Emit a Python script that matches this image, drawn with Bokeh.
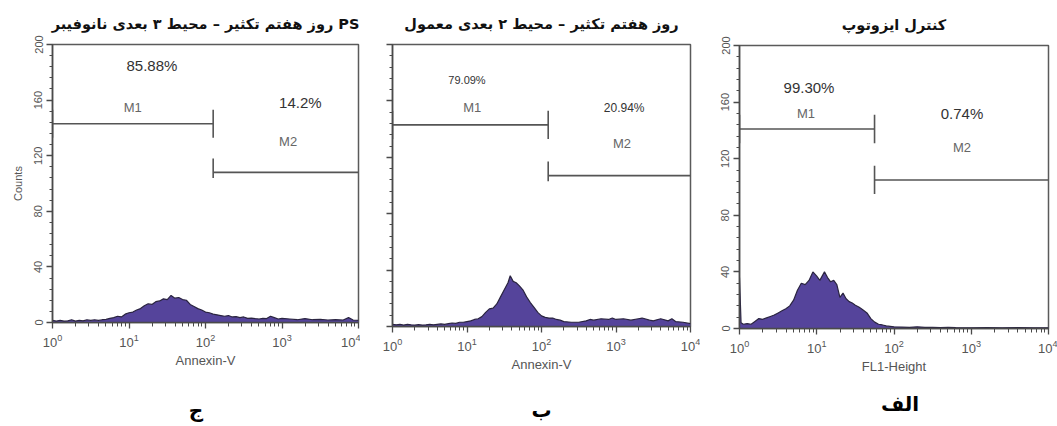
from bokeh.plotting import figure
from bokeh.models import FixedTicker, Label, Range1d, CustomJSTickFormatter
from bokeh.layouts import row, column
from bokeh.embed import file_html
from bokeh.resources import INLINE
from bokeh.core.properties import value

# ---------------- data ----------------
y_ticks = [0, 40, 80, 120, 160, 200]
y_minor = [0, 8, 16, 24, 32, 40, 48, 56, 64, 72, 80, 88, 96, 104, 112, 120,
           128, 136, 144, 152, 160, 168, 176, 184, 192, 200]
x_ticks = [1, 10, 100, 1000, 10000]

# panel "ج" (3D PS nanofiber) : log10 channel, counts
c_log = [0.00, 0.05, 0.10, 0.15, 0.20, 0.25, 0.30, 0.35, 0.40, 0.45, 0.50, 0.55,
         0.60, 0.65, 0.70, 0.75, 0.80, 0.85, 0.90, 0.95, 1.00, 1.05, 1.10, 1.15,
         1.20, 1.25, 1.30, 1.35, 1.40, 1.45, 1.50, 1.55, 1.60, 1.65, 1.70, 1.75,
         1.80, 1.85, 1.90, 1.95, 2.00, 2.05, 2.10, 2.15, 2.20, 2.25, 2.30, 2.35,
         2.40, 2.45, 2.50, 2.55, 2.60, 2.65, 2.70, 2.75, 2.80, 2.85, 2.90, 2.95,
         3.00, 3.10, 3.20, 3.30, 3.40, 3.50, 3.60, 3.70, 3.80, 3.87, 3.93, 4.00]
c_counts = [1.5, 1.0, 1.5, 1.0, 1.2, 2.0, 1.0, 1.5, 1.2, 2.0, 1.5, 2.0,
            1.5, 2.0, 2.2, 3.0, 3.5, 4.5, 4.0, 6.0, 7.0, 7.5, 9.0, 10.0,
            12.0, 13.5, 13.0, 15.0, 15.5, 17.0, 16.5, 19.5, 17.5, 18.0, 16.5, 16.0,
            13.0, 11.5, 10.0, 9.0, 7.5, 7.0, 6.0, 5.5, 5.0, 4.5, 5.0, 4.0,
            4.2, 3.5, 4.0, 3.0, 3.2, 2.8, 2.5, 3.0, 2.8, 4.5, 3.5, 2.5,
            3.0, 2.5, 2.0, 2.8, 2.0, 2.2, 1.8, 2.0, 1.8, 3.5, 1.8, 1.5]

# panel "ب" (2D conventional)
b_log = [0.00, 0.05, 0.10, 0.15, 0.20, 0.25, 0.30, 0.35, 0.40, 0.45, 0.50, 0.55,
         0.60, 0.65, 0.70, 0.75, 0.80, 0.85, 0.90, 0.95, 1.00, 1.05, 1.10, 1.15,
         1.20, 1.25, 1.30, 1.35, 1.40, 1.45, 1.50, 1.55, 1.58, 1.62, 1.66, 1.70,
         1.75, 1.80, 1.85, 1.90, 1.95, 2.00, 2.05, 2.10, 2.15, 2.20, 2.25, 2.30,
         2.40, 2.50, 2.60, 2.65, 2.70, 2.80, 2.90, 2.95, 3.00, 3.10, 3.20, 3.30,
         3.35, 3.45, 3.50, 3.60, 3.70, 3.75, 3.80, 3.90, 4.00]
b_counts = [1.5, 1.2, 1.5, 1.0, 1.5, 1.2, 1.0, 1.3, 1.0, 1.2, 1.5, 1.2,
            1.5, 1.8, 1.5, 2.0, 2.5, 2.2, 3.0, 3.0, 3.5, 4.0, 5.0, 5.5,
            7.0, 10.0, 12.5, 13.0, 16.0, 21.0, 26.0, 31.0, 36.0, 32.0, 31.0, 29.0,
            26.0, 21.0, 17.0, 13.5, 10.0, 7.5, 6.5, 6.0, 6.0, 5.0, 4.5, 3.5,
            3.0, 3.0, 4.0, 5.0, 4.5, 5.5, 5.0, 6.0, 5.0, 5.5, 4.5, 5.5,
            6.0, 4.5, 4.0, 5.5, 4.0, 5.5, 3.5, 3.0, 2.0]

# panel "الف" (isotype control)
a_log = [0.00, 0.02, 0.05, 0.10, 0.15, 0.20, 0.25, 0.30, 0.35, 0.40, 0.45, 0.50,
         0.55, 0.60, 0.65, 0.70, 0.75, 0.80, 0.85, 0.90, 0.95, 1.00, 1.04, 1.07,
         1.10, 1.14, 1.18, 1.22, 1.26, 1.30, 1.34, 1.38, 1.42, 1.46, 1.50, 1.55,
         1.60, 1.65, 1.70, 1.75, 1.80, 1.85, 1.90, 1.95, 2.00, 2.10, 2.20, 2.30,
         2.40, 2.50, 2.60, 2.70, 2.80, 3.00, 3.20, 3.40, 3.60, 3.80, 4.00]
a_counts = [36.0, 4.0, 3.0, 3.5, 3.0, 5.0, 7.0, 6.5, 7.5, 8.5, 9.5, 11.0,
            12.5, 14.0, 16.0, 20.0, 27.0, 32.0, 31.0, 34.0, 40.0, 37.0, 34.0, 37.0,
            40.0, 36.0, 33.0, 34.0, 31.0, 22.0, 25.0, 21.0, 19.0, 18.0, 16.5, 15.0,
            13.0, 11.0, 7.0, 4.5, 3.0, 2.5, 1.8, 1.5, 1.2, 1.0, 0.8, 1.2,
            0.8, 0.8, 0.6, 0.8, 0.6, 0.5, 0.6, 0.5, 0.7, 0.5, 0.5]

titles = ["روز هفتم تکثیر – محیط ۳ بعدی نانوفیبر PS",
          "روز هفتم تکثیر – محیط ۲ بعدی معمول",
          "کنترل ایزوتوپ"]
x_labels = ["Annexin-V", "Annexin-V", "FL1-Height"]
letters = ["ج", "ب", "الف"]
m1_pct = ["85.88%", "79.09%", "99.30%"]
m2_pct = ["14.2%", "20.94%", "0.74%"]
gate_split = [126, 123, 56]      # M1 / M2 boundary (channel)
m1_level = [143, 143, 141]       # counts level of M1 bar
m2_level = [108, 107, 105]       # counts level of M2 bar

# ---------------- style / layout ----------------
FILL = "#55449b"
EDGE = "#2a2440"
GATE = "#555555"
AXC = "#4a4a4a"
TXT = "#555555"
SANS = "Liberation Sans"

panels = [
    dict(log=c_log, counts=c_counts, w=360, h=370, left=52, right=2, top=44,
         ylabels=True, ylab="Counts",
         pct1=(10 ** 1.30, 185, "15px"), m1=(10 ** 1.05, 155), pct2=(10 ** 3.24, 158, "15px"), m2=(10 ** 3.08, 130),
         bar1=(10, 10), bar2=(10, 4), letter=(75, 0.29)),
    dict(log=b_log, counts=b_counts, w=340, h=374, left=32, right=10, top=43,
         ylabels=False, ylab=None,
         pct1=(10 ** 1.0, 175, "11px"), m1=(10 ** 1.07, 155), pct2=(10 ** 3.11, 155, "12px"), m2=(10 ** 3.08, 130),
         bar1=(10, 10), bar2=(10, 4), letter=(100, 0.31)),
    dict(log=a_log, counts=a_counts, w=357, h=376, left=39, right=9, top=45,
         ylabels=True, ylab=None,
         pct1=(10 ** 0.90, 170, "15px"), m1=(10 ** 0.86, 152), pct2=(10 ** 2.88, 152, "15px"), m2=(10 ** 2.88, 128),
         bar1=(10, 10), bar2=(10, 10), letter=(120, 0.46)),
]

cols = []
for i, pc in enumerate(panels):
    p = figure(width=pc["w"], height=pc["h"], x_axis_type="log",
               x_range=Range1d(1, 10000), y_range=Range1d(0, 200),
               toolbar_location=None, output_backend="svg",
               min_border_left=pc["left"], min_border_right=pc["right"],
               min_border_top=pc["top"], min_border_bottom=20)
    p.background_fill_color = "white"
    p.border_fill_color = "white"
    p.outline_line_color = "#5a5a5a"
    p.outline_line_width = 1.5
    p.xgrid.visible = False
    p.ygrid.visible = False

    # title
    p.title.text = titles[i]
    p.title.align = "center"
    p.title.text_font = "DejaVu Sans"
    p.title.text_font_style = "bold"
    p.title.text_font_size = "14.5px"
    p.title.text_color = "#111111"
    p.title.standoff = 26

    # histogram
    xs = [10 ** v for v in pc["log"]]
    ys = pc["counts"]
    p.varea(x=xs, y1=0, y2=ys, fill_color=FILL)
    p.line(xs, ys, line_color=EDGE, line_width=1.2)

    # gates
    g = gate_split[i]
    l1, l2 = m1_level[i], m2_level[i]
    b1u, b1d = pc["bar1"]
    b2u, b2d = pc["bar2"]
    p.segment(x0=[1, g], y0=[l1, l2], x1=[g, 10000], y1=[l1, l2],
              line_color=GATE, line_width=1.6)
    p.segment(x0=[1, g, g], y0=[l1 - b1d, l1 - b1d, l2 - b2d],
              x1=[1, g, g], y1=[l1 + b1u, l1 + b1u, l2 + b2u],
              line_color=GATE, line_width=1.6)

    # gate texts
    x, y, fs = pc["pct1"]
    p.add_layout(Label(x=x, y=y, text=m1_pct[i], text_font=SANS, text_font_size=fs,
                       text_color="#333333", text_align="center", text_baseline="middle"))
    x, y = pc["m1"]
    p.add_layout(Label(x=x, y=y, text="M1", text_font=SANS, text_font_size="13px",
                       text_color="#666666", text_align="center", text_baseline="middle"))
    x, y, fs = pc["pct2"]
    p.add_layout(Label(x=x, y=y, text=m2_pct[i], text_font=SANS, text_font_size=fs,
                       text_color="#333333", text_align="center", text_baseline="middle"))
    x, y = pc["m2"]
    p.add_layout(Label(x=x, y=y, text="M2", text_font=SANS, text_font_size="13px",
                       text_color="#666666", text_align="center", text_baseline="middle"))

    # x axis
    xa = p.xaxis[0]
    xa.ticker = FixedTicker(ticks=x_ticks, minor_ticks=[a * 10 ** e for e in range(4) for a in range(2, 10)])
    xa.axis_label = x_labels[i]
    xa.axis_label_text_font = SANS
    xa.axis_label_text_font_style = "normal"
    xa.axis_label_text_font_size = "13px"
    xa.axis_label_text_color = TXT
    xa.axis_label_standoff = 3
    xa.major_label_text_font = SANS
    xa.major_label_text_font_size = "13px"
    xa.major_label_text_color = TXT
    xa.axis_line_color = AXC
    xa.axis_line_width = 1.5
    xa.major_tick_line_color = AXC
    xa.minor_tick_line_color = AXC
    xa.major_tick_out = 6
    xa.major_tick_in = 0
    xa.minor_tick_out = 4
    xa.minor_tick_in = 0
    xa.major_tick_line_width = 1.3
    xa.minor_tick_line_width = 1.0

    # y axis
    ya = p.yaxis[0]
    ya.ticker = FixedTicker(ticks=y_ticks, minor_ticks=y_minor)
    ya.axis_line_color = AXC
    ya.axis_line_width = 1.5
    ya.major_tick_line_color = AXC
    ya.minor_tick_line_color = AXC
    ya.major_tick_out = 6
    ya.major_tick_in = 0
    ya.minor_tick_out = 3
    ya.minor_tick_in = 0
    ya.major_tick_line_width = 1.3
    ya.major_label_orientation = "vertical"
    ya.major_label_text_font = SANS
    ya.major_label_text_font_size = "11px"
    ya.major_label_text_color = TXT
    ya.major_label_standoff = 4
    if not pc["ylabels"]:
        ya.formatter = CustomJSTickFormatter(code="return ''")
    if pc["ylab"]:
        ya.axis_label = pc["ylab"]
        ya.axis_label_text_font = SANS
        ya.axis_label_text_font_style = "normal"
        ya.axis_label_text_font_size = "11px"
        ya.axis_label_text_color = TXT
        ya.axis_label_standoff = 8

    # strip under the panel carrying the panel letter (shares the x scale)
    q = figure(width=pc["w"], height=426 - pc["h"], x_axis_type="log",
               x_range=p.x_range, y_range=Range1d(0, 1),
               toolbar_location=None, output_backend="svg",
               min_border_left=pc["left"], min_border_right=pc["right"],
               min_border_top=0, min_border_bottom=0)
    q.axis.visible = False
    q.xgrid.visible = False
    q.ygrid.visible = False
    q.outline_line_color = None
    q.background_fill_color = "white"
    q.border_fill_color = "white"
    lx, ly = pc["letter"]
    q.text(x=[lx], y=[ly], text=[letters[i]], text_font=value("DejaVu Sans"),
           text_font_style="bold", text_font_size="20px", text_color="#000000",
           text_align="center", text_baseline="middle")

    cols.append(column(p, q))

layout = row(*cols)
open("out.html", "w").write(file_html(layout, INLINE))
